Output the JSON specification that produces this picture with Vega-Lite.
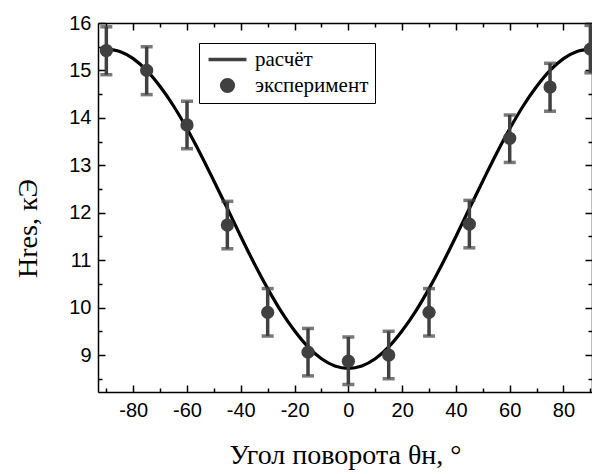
{
  "$schema": "https://vega.github.io/schema/vega-lite/v6.json",
  "width": 494,
  "height": 369,
  "autosize": {"type": "none"},
  "padding": {"left": 98, "top": 23, "right": 0, "bottom": 82},
  "background": "white",
  "config": {
    "view": {"stroke": null},
    "axis": {
      "domainColor": "black",
      "domainWidth": 1.5,
      "tickColor": "black",
      "tickWidth": 1.5,
      "grid": false,
      "labelFont": "Liberation Sans",
      "labelFontSize": 20,
      "labelColor": "black",
      "titleFont": "Liberation Serif",
      "titleFontWeight": "normal",
      "titleFontSize": 28,
      "titleColor": "black"
    }
  },
  "datasets": {
    "curve": [
      {"theta": -90, "H": 15.45}, {"theta": -85, "H": 15.40}, {"theta": -80, "H": 15.25},
      {"theta": -75, "H": 15.00}, {"theta": -70, "H": 14.66}, {"theta": -65, "H": 14.25},
      {"theta": -60, "H": 13.77}, {"theta": -55, "H": 13.24}, {"theta": -50, "H": 12.67},
      {"theta": -45, "H": 12.09}, {"theta": -40, "H": 11.50}, {"theta": -35, "H": 10.93},
      {"theta": -30, "H": 10.40}, {"theta": -25, "H": 9.92}, {"theta": -20, "H": 9.51},
      {"theta": -15, "H": 9.17}, {"theta": -10, "H": 8.92}, {"theta": -5, "H": 8.77},
      {"theta": 0, "H": 8.72},
      {"theta": 5, "H": 8.77}, {"theta": 10, "H": 8.92}, {"theta": 15, "H": 9.17},
      {"theta": 20, "H": 9.51}, {"theta": 25, "H": 9.92}, {"theta": 30, "H": 10.40},
      {"theta": 35, "H": 10.93}, {"theta": 40, "H": 11.50}, {"theta": 45, "H": 12.09},
      {"theta": 50, "H": 12.67}, {"theta": 55, "H": 13.24}, {"theta": 60, "H": 13.77},
      {"theta": 65, "H": 14.25}, {"theta": 70, "H": 14.66}, {"theta": 75, "H": 15.00},
      {"theta": 80, "H": 15.25}, {"theta": 85, "H": 15.40}, {"theta": 90, "H": 15.45}
    ],
    "exp": [
      {"theta": -90, "H": 15.42, "lo": 14.91, "hi": 15.92, "series": "эксперимент"},
      {"theta": -75, "H": 15.00, "lo": 14.49, "hi": 15.50, "series": "эксперимент"},
      {"theta": -60, "H": 13.85, "lo": 13.35, "hi": 14.35, "series": "эксперимент"},
      {"theta": -45, "H": 11.74, "lo": 11.24, "hi": 12.24, "series": "эксперимент"},
      {"theta": -30, "H": 9.90, "lo": 9.40, "hi": 10.40, "series": "эксперимент"},
      {"theta": -15, "H": 9.06, "lo": 8.56, "hi": 9.56, "series": "эксперимент"},
      {"theta": 0, "H": 8.87, "lo": 8.38, "hi": 9.38, "series": "эксперимент"},
      {"theta": 15, "H": 9.00, "lo": 8.50, "hi": 9.50, "series": "эксперимент"},
      {"theta": 30, "H": 9.90, "lo": 9.40, "hi": 10.40, "series": "эксперимент"},
      {"theta": 45, "H": 11.76, "lo": 11.26, "hi": 12.26, "series": "эксперимент"},
      {"theta": 60, "H": 13.57, "lo": 13.06, "hi": 14.06, "series": "эксперимент"},
      {"theta": 75, "H": 14.65, "lo": 14.14, "hi": 15.15, "series": "эксперимент"},
      {"theta": 90, "H": 15.45, "lo": 14.95, "hi": 15.95, "series": "эксперимент"}
    ]
  },
  "layer": [
    {
      "data": {"name": "curve"},
      "mark": {"type": "line", "color": "black", "strokeWidth": 3.2, "interpolate": "monotone", "clip": true},
      "encoding": {
        "x": {
          "field": "theta", "type": "quantitative",
          "scale": {"domain": [-93.1, 90.6], "nice": false, "zero": false},
          "axis": {
            "orient": "bottom",
            "values": [-80, -60, -40, -20, 0, 20, 40, 60, 80],
            "labelExpr": "'' + datum.value",
            "tickSize": -7,
            "labelPadding": 15,
            "title": "Угол поворота θн, °",
            "titleY": 71,
            "titleBaseline": "alphabetic"
          }
        },
        "y": {
          "field": "H", "type": "quantitative",
          "scale": {"domain": [8.22, 16], "nice": false, "zero": false},
          "axis": {
            "orient": "left",
            "values": [9, 10, 11, 12, 13, 14, 15, 16],
            "labelExpr": "'' + datum.value",
            "tickSize": -7,
            "labelPadding": 14,
            "title": "Hres, кЭ",
            "titleX": -62,
            "titleY": 205,
            "titleBaseline": "alphabetic",
            "titleAngle": -90
          }
        }
      }
    },
    {
      "data": {"name": "exp"},
      "mark": {"type": "rule", "color": "#404040", "strokeWidth": 3.5},
      "encoding": {
        "x": {
          "field": "theta", "type": "quantitative",
          "scale": {"domain": [-93.1, 90.6], "nice": false, "zero": false},
          "axis": {
            "orient": "top",
            "values": [-80, -60, -40, -20, 0, 20, 40, 60, 80],
            "labels": false,
            "tickSize": -7,
            "title": null
          }
        },
        "y": {
          "field": "lo", "type": "quantitative",
          "scale": {"domain": [8.22, 16], "nice": false, "zero": false},
          "axis": {
            "orient": "right",
            "values": [9, 10, 11, 12, 13, 14, 15, 16],
            "labels": false,
            "tickSize": -7,
            "title": null
          }
        },
        "y2": {"field": "hi"}
      }
    },
    {
      "data": {"name": "exp"},
      "mark": {"type": "tick", "orient": "horizontal", "color": "#404040", "size": 12, "thickness": 3.5},
      "encoding": {
        "x": {
          "field": "theta", "type": "quantitative",
          "scale": {"domain": [-93.1, 90.6], "nice": false, "zero": false},
          "axis": {"orient": "bottom", "values": [-90, -70, -50, -30, -10, 10, 30, 50, 70, 90], "labels": false, "domain": false, "tickSize": -4, "title": null}
        },
        "y": {
          "field": "lo", "type": "quantitative",
          "scale": {"domain": [8.22, 16], "nice": false, "zero": false},
          "axis": {"orient": "left", "values": [8.5, 9.5, 10.5, 11.5, 12.5, 13.5, 14.5, 15.5], "labels": false, "domain": false, "tickSize": -4, "title": null}
        }
      }
    },
    {
      "data": {"name": "exp"},
      "mark": {"type": "tick", "orient": "horizontal", "color": "#404040", "size": 12, "thickness": 3.5},
      "encoding": {
        "x": {
          "field": "theta", "type": "quantitative",
          "scale": {"domain": [-93.1, 90.6], "nice": false, "zero": false},
          "axis": {"orient": "top", "values": [-90, -70, -50, -30, -10, 10, 30, 50, 70, 90], "labels": false, "domain": false, "tickSize": -4, "title": null}
        },
        "y": {
          "field": "hi", "type": "quantitative",
          "scale": {"domain": [8.22, 16], "nice": false, "zero": false},
          "axis": {"orient": "right", "values": [8.5, 9.5, 10.5, 11.5, 12.5, 13.5, 14.5, 15.5], "labels": false, "domain": false, "tickSize": -4, "title": null}
        }
      }
    },
    {
      "data": {"name": "exp"},
      "mark": {"type": "point", "filled": true, "opacity": 1, "color": "#404040", "size": 175},
      "encoding": {
        "x": {"field": "theta", "type": "quantitative", "scale": {"domain": [-93.1, 90.6], "nice": false, "zero": false}, "axis": null},
        "y": {"field": "H", "type": "quantitative", "scale": {"domain": [8.22, 16], "nice": false, "zero": false}, "axis": null},
        "shape": {
          "field": "series", "type": "nominal",
          "scale": {"domain": ["расчёт", "эксперимент"], "range": ["M-2.5,-0.23H2.5V0.23H-2.5Z", "circle"]},
          "legend": {
            "title": null,
            "orient": "none",
            "legendX": 101,
            "legendY": 20,
            "strokeColor": "black",
            "fillColor": "white",
            "padding": 6,
            "rowPadding": 4,
            "symbolSize": 230,
            "symbolOffset": 12,
            "labelOffset": 17,
            "labelFont": "Liberation Serif",
            "labelFontSize": 21,
            "labelColor": "black",
            "labelLimit": 0
          }
        }
      }
    }
  ],
  "resolve": {"axis": {"x": "independent", "y": "independent"}}
}
